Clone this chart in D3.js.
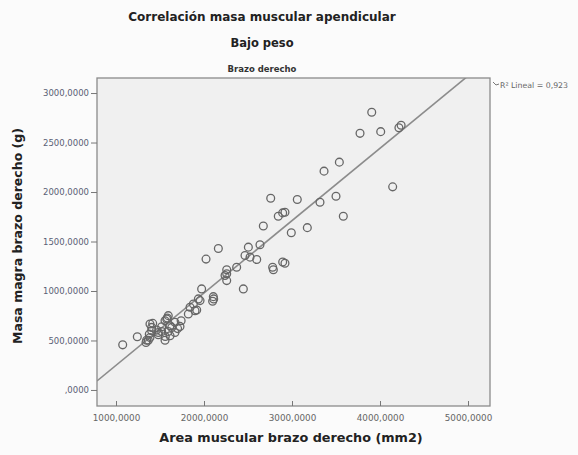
<!DOCTYPE html>
<html>
<head>
<meta charset="utf-8">
<script src="https://cdn.jsdelivr.net/npm/d3@7"></script>
<style>
  html, body { margin: 0; padding: 0; background: #fbfbfb; }
  svg { display: block; }
</style>
</head>
<body>
<svg id="chart" width="578" height="455"></svg>
<script>
// Área muscular (mm2) y masa magra (g) del brazo derecho, grupo bajo peso
const areaMuscular = [
  3906, 3773, 4008, 4215, 4240, 3364, 3538, 4144, 2758, 3060,
  3318, 3500, 3583, 2844, 2894, 2920, 2674, 2992, 3174, 2163,
  2023, 2504, 2636, 2466, 2523, 2599, 2780, 2788, 2894, 2920,
  2371, 2258, 2258, 2258, 2447, 1973, 2106, 2098, 2110, 1936,
  1879, 1841, 1898, 1917, 1822, 1955, 1727, 1583, 1557, 1633,
  1417, 1405, 1462, 1519, 1594, 1378, 1348, 1386, 1557, 1614,
  1242, 1076, 1481, 1670, 1519, 1341, 1594, 1367, 1405, 1386,
  1481, 1576, 1614, 1670, 2239, 1740, 1700, 1560
];
const masaMagra = [
  2806, 2593, 2610, 2650, 2675, 2211, 2302, 2052, 1937, 1924,
  1897, 1957, 1755, 1755, 1789, 1795, 1656, 1589, 1640, 1430,
  1322, 1443, 1467, 1359, 1342, 1318, 1240, 1214, 1292, 1280,
  1240, 1214, 1173, 1105, 1021, 1021, 943, 896, 920, 920,
  869, 835, 801, 808, 767, 903, 642, 727, 700, 632,
  673, 632, 605, 591, 591, 564, 503, 530, 503, 548,
  538, 456, 558, 683, 639, 480, 751, 503, 598, 666,
  581, 717, 649, 581, 1156, 700, 620, 540
];

const xTicks = [1000, 2000, 3000, 4000, 5000];
const yTicks = [0, 500, 1000, 1500, 2000, 2500, 3000];

// Recta de ajuste lineal
const fitSlope = 0.731;
const fitIntercept = -482;
const r2Label = "R² Lineal = 0,923";

const titles = ["Correlación masa muscular apendicular", "Bajo peso", "Brazo derecho"];
const xLabel = "Area muscular brazo derecho (mm2)";
const yLabel = "Masa magra brazo derecho (g)";

const frame = { left: 97, right: 490, top: 78, bottom: 406 };

const x = d3.scaleLinear().domain([784, 5250]).range([frame.left, frame.right]);
const y = d3.scaleLinear().domain([-162, 3152]).range([frame.bottom, frame.top]);

const fmt = v => v === 0 ? ",0000" : d3.format(".4f")(v).replace(".", ",");

const svg = d3.select("#chart");
const font = "'DejaVu Sans', sans-serif";

// Titles
svg.append("text").attr("x", 262).attr("y", 21).attr("text-anchor", "middle")
  .attr("font-family", font).attr("font-weight", "bold").attr("font-size", 12)
  .attr("fill", "#222").text(titles[0]);
svg.append("text").attr("x", 262).attr("y", 47).attr("text-anchor", "middle")
  .attr("font-family", font).attr("font-weight", "bold").attr("font-size", 11.5)
  .attr("fill", "#222").text(titles[1]);
svg.append("text").attr("x", 262).attr("y", 72).attr("text-anchor", "middle")
  .attr("font-family", font).attr("font-weight", "bold").attr("font-size", 8.5)
  .attr("fill", "#333").text(titles[2]);

// Plot area
svg.append("rect")
  .attr("x", frame.left).attr("y", frame.top)
  .attr("width", frame.right - frame.left).attr("height", frame.bottom - frame.top)
  .attr("fill", "#f0f0f0").attr("stroke", "#8a8a8a").attr("stroke-width", 1.3);

svg.append("clipPath").attr("id", "plotClip").append("rect")
  .attr("x", frame.left).attr("y", frame.top)
  .attr("width", frame.right - frame.left).attr("height", frame.bottom - frame.top);

// Axes
const xAxis = d3.axisBottom(x).tickValues(xTicks).tickFormat(fmt).tickSize(5).tickPadding(3);
const yAxis = d3.axisLeft(y).tickValues(yTicks).tickFormat(fmt).tickSize(6).tickPadding(2);

const gx = svg.append("g").attr("transform", `translate(0,${frame.bottom})`).call(xAxis);
gx.select(".domain").remove();
gx.selectAll(".tick line").attr("stroke", "#777").attr("transform", "translate(0,-5)");
gx.selectAll(".tick text").attr("font-family", font).attr("font-size", 8.8).attr("fill", "#666").attr("dy", "0.85em");

const gy = svg.append("g").attr("transform", `translate(${frame.left},0)`).call(yAxis);
gy.select(".domain").remove();
gy.selectAll(".tick line").attr("stroke", "#777");
gy.selectAll(".tick text").attr("font-family", font).attr("font-size", 8.5).attr("fill", "#5a5f75");

// Axis titles
svg.append("text").attr("x", 291).attr("y", 442).attr("text-anchor", "middle")
  .attr("font-family", font).attr("font-weight", "bold").attr("font-size", 12.8)
  .attr("fill", "#222").text(xLabel);
svg.append("text").attr("transform", "translate(22,236) rotate(-90)").attr("text-anchor", "middle")
  .attr("font-family", font).attr("font-weight", "bold").attr("font-size", 12.5)
  .attr("fill", "#222").text(yLabel);

// Fit line
const x0 = x.domain()[0], x1 = x.domain()[1];
svg.append("line")
  .attr("clip-path", "url(#plotClip)")
  .attr("x1", x(x0)).attr("y1", y(fitSlope * x0 + fitIntercept))
  .attr("x2", x(x1)).attr("y2", y(fitSlope * x1 + fitIntercept))
  .attr("stroke", "#8c8c8c").attr("stroke-width", 1.6);

// Points
svg.append("g").attr("clip-path", "url(#plotClip)")
  .selectAll("circle")
  .data(areaMuscular.map((a, i) => [a, masaMagra[i]]))
  .join("circle")
  .attr("cx", d => x(d[0])).attr("cy", d => y(d[1])).attr("r", 3.9)
  .attr("fill", "none").attr("stroke", "#666").attr("stroke-width", 1.3);

// R² annotation
const lx = frame.right + 3, ly = frame.top + 10;
svg.append("path").attr("d", `M${lx},${ly - 6} L${lx + 3},${ly - 3} L${lx + 6},${ly - 4}`)
  .attr("stroke", "#777").attr("fill", "none").attr("stroke-width", 1);
svg.append("text").attr("x", lx + 7).attr("y", ly)
  .attr("font-family", font).attr("font-size", 7.8).attr("fill", "#666").text(r2Label);
</script>
</body>
</html>
